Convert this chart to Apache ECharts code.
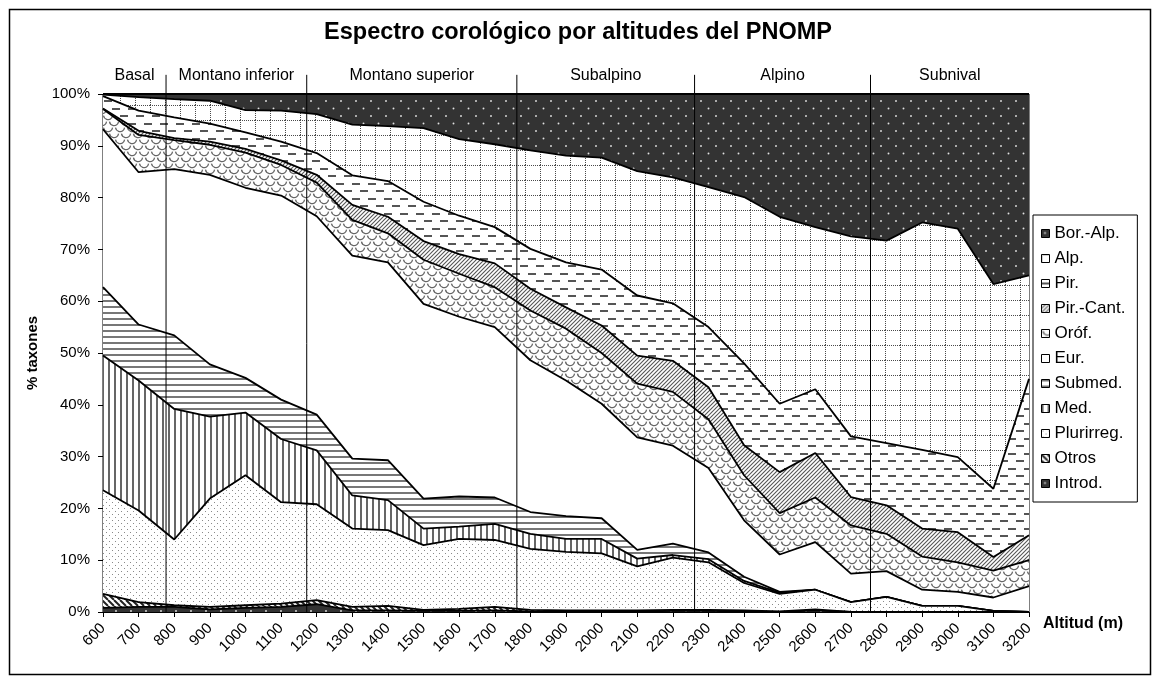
<!DOCTYPE html>
<html><head><meta charset="utf-8">
<script src="https://cdn.jsdelivr.net/npm/echarts@6/dist/echarts.min.js"></script>
<style>html,body{margin:0;padding:0;background:#fff}#c{width:1156px;height:681px}</style>
</head><body><div id="c"></div>
<script>
const altitudes = ['600','700','800','900','1000','1100','1200','1300','1400','1500','1600','1700','1800','1900','2000','2100','2200','2300','2400','2500','2600','2700','2800','2900','3000','3100','3200'];
const introd    = [0.8,1.0,1.0,0.5,0.8,1.0,1.5,0.3,0.3,0.2,0.2,0.3,0.1,0.1,0.1,0.1,0.2,0.2,0.1,0,0.3,0,0,0,0,0,0];
const otros     = [2.7,0.9,0.3,0.5,0.5,0.6,0.8,0.7,0.9,0.2,0.4,0.7,0.3,0.2,0.2,0.2,0.2,0.2,0.2,0.1,0.2,0,0,0,0,0,0];
const plurirreg = [20.0,17.7,12.7,20.9,25.1,19.6,18.5,15.1,14.6,12.5,13.5,12.9,11.8,11.3,11.0,8.5,10.1,9.2,5.3,3.4,3.8,1.9,2.9,1.2,1.2,0.2,0];
const med       = [26.0,25.1,25.2,15.8,12.1,12.2,10.4,6.4,5.8,3.2,2.4,3.1,2.9,2.5,2.8,1.5,0.5,0.6,0.4,0.2,0,0,0,0,0,0,0];
const submed    = [13.2,10.8,14.2,10.1,6.7,7.6,6.9,7.1,7.7,5.8,5.8,5.1,4.2,4.4,4.0,1.7,2.2,1.3,0.8,0.2,0,0,0,0,0,0,0];
const eur       = [30.5,29.4,32.1,36.6,36.7,39.4,38.3,39.2,38.2,37.6,34.7,32.9,29.3,26.2,22.1,21.7,18.9,16.3,10.9,7.2,9.2,5.5,5.0,3.1,2.7,2.6,5.0];
const orof      = [3.9,7.2,5.6,5.8,6.8,5.9,6.5,6.9,5.6,8.5,8.3,7.7,9.6,10.0,9.8,10.4,10.4,9.4,8.7,8.0,8.6,9.3,7.2,6.4,5.7,5.2,5.0];
const pirCant   = [0.1,0.8,0.4,0.6,0.7,0.9,1.5,2.9,3.2,3.6,3.8,4.6,4.2,4.1,5.3,5.4,6.0,6.2,5.8,7.9,8.6,5.5,5.5,5.4,5.8,2.6,4.8];
const pir       = [2.4,3.9,4.0,3.5,3.2,3.6,4.2,5.7,6.9,7.6,7.4,7.0,7.7,8.7,10.8,11.6,11.1,11.6,15.8,13.2,12.3,11.7,12.0,15.2,14.5,13.2,30.2];
const alp       = [0.3,2.6,3.5,4.4,4.3,6.0,7.5,9.8,10.6,14.2,14.8,16.0,19.0,20.6,21.6,24.0,24.3,27.0,32.1,36.1,31.3,38.6,39.1,43.9,44.1,39.5,20.0];
const borAlp    = [0.1,0.6,1.0,1.3,3.1,3.2,3.9,5.9,6.2,6.6,8.7,9.7,10.9,11.9,12.3,14.9,16.1,18.0,19.9,23.7,25.7,27.5,28.3,24.8,26.0,36.7,35.0];
const seriesNames = ['Introd.','Otros','Plurirreg.','Med.','Submed.','Eur.','Oróf.','Pir.-Cant.','Pir.','Alp.','Bor.-Alp.'];
const zoneNames = ['Basal','Montano inferior','Montano superior','Subalpino','Alpino','Subnival'];
const zoneBounds = [600, 777, 1172, 1762, 2261, 2755, 3200];
const yTicks = [0,10,20,30,40,50,60,70,80,90,100];

const FONT = "'Liberation Sans', Arial, sans-serif";

function tile(w, h, draw) {
  const c = document.createElement('canvas');
  c.width = w; c.height = h;
  const g = c.getContext('2d');
  g.fillStyle = '#fff'; g.fillRect(0, 0, w, h);
  draw(g, w, h);
  return { image: c, repeat: 'repeat' };
}
const darkDots = () => tile(15, 15, g => {
  g.fillStyle = '#333'; g.fillRect(0, 0, 15, 15);
  g.fillStyle = '#e0e0e0';
  g.beginPath(); g.arc(3.5, 3.5, 0.95, 0, Math.PI * 2); g.fill();
  g.beginPath(); g.arc(11, 11, 0.95, 0, Math.PI * 2); g.fill();
});
const pats = {
  introd: darkDots(),
  otros: tile(6, 6, g => {
    g.strokeStyle = '#222'; g.lineWidth = 2;
    for (let x = -6; x <= 6; x += 6) { g.beginPath(); g.moveTo(x, 0); g.lineTo(x + 6, 6); g.stroke(); }
  }),
  plurirreg: tile(6, 6, g => {
    g.fillStyle = '#8a8a8a'; g.fillRect(1, 1, 1, 1); g.fillRect(4, 4, 1, 1);
  }),
  med: tile(6, 6, g => { g.fillStyle = '#666'; g.fillRect(0, 0, 2, 6); }),
  submed: tile(6, 6, g => { g.fillStyle = '#777'; g.fillRect(0, 0, 6, 2); }),
  eur: '#ffffff',
  orof: tile(12, 12, g => {
    g.strokeStyle = '#666'; g.lineWidth = 1.3;
    const arcs = [[6, 1], [0, 7], [12, 7], [6, 13], [0, -5], [12, -5]];
    arcs.forEach(([cx, cy]) => { g.beginPath(); g.arc(cx, cy, 4.6, 0.05 * Math.PI, 0.95 * Math.PI); g.stroke(); });
  }),
  pirCant: tile(4, 4, g => {
    g.strokeStyle = '#555'; g.lineWidth = 1.1;
    [[0, 4, 4, 0], [-1, 1, 1, -1], [3, 5, 5, 3]].forEach(([a, b, c, d]) => { g.beginPath(); g.moveTo(a, b); g.lineTo(c, d); g.stroke(); });
  }),
  pir: tile(16, 15, g => {
    g.fillStyle = '#555'; g.fillRect(0, 3, 8, 2); g.fillRect(8, 10, 8, 2);
  }),
  alp: tile(15, 15, g => {
    g.fillStyle = '#4a4a4a';
    for (let i = 0; i < 15; i += 2) { g.fillRect(i, 0, 1, 1); g.fillRect(0, i, 1, 1); }
  }),
  borAlp: darkDots()
};
const patList = [pats.introd, pats.otros, pats.plurirreg, pats.med, pats.submed, pats.eur, pats.orof, pats.pirCant, pats.pir, pats.alp, pats.borAlp];
const valueList = [introd, otros, plurirreg, med, submed, eur, orof, pirCant, pir, alp, borAlp];

const series = seriesNames.map((n, i) => ({
  name: n, type: 'line', stack: 'total', data: valueList[i],
  symbol: 'none', showSymbol: false, silent: true, z: 30 - i,
  lineStyle: { color: '#000', width: 1.8 },
  areaStyle: { color: patList[i], opacity: 1 },
  itemStyle: { color: patList[i], borderColor: '#000', borderWidth: 1 }
}));

// zone dividers (on hidden altitude value axis)
series.push({
  type: 'custom', xAxisIndex: 1, yAxisIndex: 0, silent: true, clip: false, z: 50,
  data: zoneBounds.slice(1, -1).map(b => [b, 0]),
  renderItem: (params, api) => {
    const a = api.coord([api.value(0), 0]);
    const b = api.coord([api.value(0), 103.7]);
    return { type: 'line', shape: { x1: a[0], y1: a[1], x2: b[0], y2: b[1] }, style: { stroke: '#000', lineWidth: 1 } };
  }
});
// zone labels
series.push({
  type: 'custom', xAxisIndex: 1, yAxisIndex: 0, silent: true, clip: false, z: 50,
  data: zoneNames.map((z, i) => [zoneBounds[i], zoneBounds[i + 1]]),
  renderItem: (params, api) => {
    const a = api.coord([api.value(0), 103.5]);
    const b = api.coord([api.value(1), 103.5]);
    return {
      type: 'text', x: (a[0] + b[0]) / 2, y: a[1],
      style: { text: zoneNames[params.dataIndex], fill: '#000', font: "16px 'Liberation Sans', Arial, sans-serif", align: 'center', verticalAlign: 'middle' }
    };
  }
});

const chart = echarts.init(document.getElementById('c'), null, { renderer: 'canvas' });
chart.setOption({
  animation: false,
  backgroundColor: '#fff',
  textStyle: { fontFamily: FONT, color: '#000' },
  title: {
    text: 'Espectro corológico por altitudes del PNOMP', left: 'center', top: 16,
    textStyle: { fontSize: 23.5, fontWeight: 'bold', color: '#000', fontFamily: FONT }
  },
  graphic: [{
    type: 'rect', left: 7, top: 7, silent: true, z: -1,
    shape: { width: 1141, height: 665 },
    style: { fill: 'none', stroke: '#000', lineWidth: 1.5 }
  }],
  legend: {
    orient: 'vertical', left: 1033, top: 215, icon: 'rect',
    itemWidth: 8, itemHeight: 8, itemGap: 8,
    padding: [10, 12, 10, 8], borderColor: '#000', borderWidth: 1,
    textStyle: { fontSize: 17, color: '#000', fontFamily: FONT },
    data: seriesNames.slice().reverse().map(n => {
      const i = seriesNames.indexOf(n);
      return { name: n, icon: 'rect', itemStyle: { color: patList[i], borderColor: '#000', borderWidth: 1 } };
    })
  },
  grid: { left: 103, top: 94, right: 127, bottom: 69, show: true, borderColor: '#000', borderWidth: 1, backgroundColor: 'transparent' },
  xAxis: [{
    type: 'category', data: altitudes, boundaryGap: false,
    name: 'Altitud (m)', nameLocation: 'end', nameGap: 14,
    nameTextStyle: { fontWeight: 'bold', fontSize: 16, color: '#000', verticalAlign: 'top', padding: [4, 0, 0, 0], fontFamily: FONT },
    axisLine: { lineStyle: { color: '#000', width: 1 } },
    axisTick: { show: true, length: 5, interval: 0, lineStyle: { color: '#000' } },
    axisLabel: { rotate: 45, interval: 0, fontSize: 15, margin: 14, color: '#000', fontFamily: FONT },
    splitLine: { show: false }
  }, {
    type: 'value', min: 600, max: 3200, show: false
  }],
  yAxis: {
    type: 'value', min: yTicks[0], max: yTicks[yTicks.length - 1], interval: yTicks[1] - yTicks[0],
    name: '% taxones', nameLocation: 'middle', nameGap: 62, nameRotate: 90,
    nameTextStyle: { fontWeight: 'bold', fontSize: 15, color: '#000', fontFamily: FONT },
    axisLine: { show: true, lineStyle: { color: '#000', width: 1 } },
    axisTick: { show: true, length: 5, lineStyle: { color: '#000' } },
    axisLabel: { formatter: '{value}%', fontSize: 15, margin: 13, color: '#000', fontFamily: FONT },
    splitLine: { show: false }
  },
  series: series
});
</script></body></html>
